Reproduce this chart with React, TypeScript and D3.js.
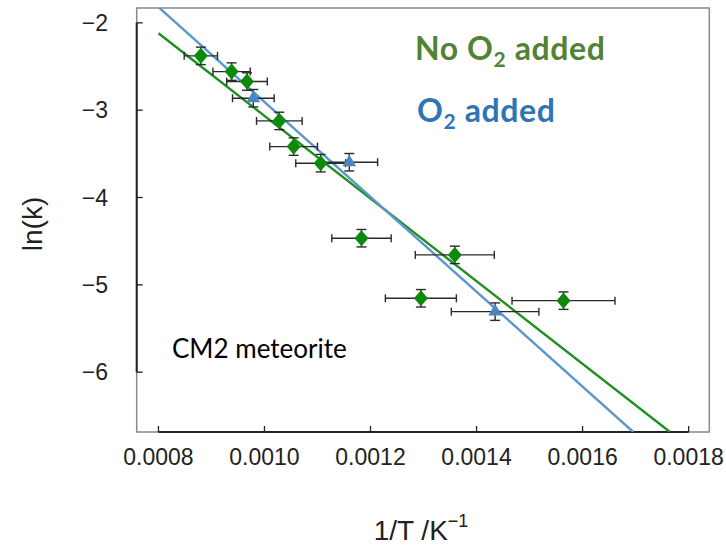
import React from "react";
import * as d3 from "d3";

// Arrhenius data: ln(k) vs 1/T for the CM2 meteorite runs
const noO2X = [0.00088, 0.000938, 0.000967, 0.001028, 0.001055, 0.001106, 0.001183, 0.001295, 0.001359, 0.001564];
const noO2Y = [-2.378, -2.558, -2.672, -3.123, -3.417, -3.607, -4.466, -5.154, -4.657, -5.181];
const noO2XErr = [0.0000314, 0.0000352, 0.0000383, 0.000043, 0.000045, 0.000047, 0.000056, 0.000067, 0.0000745, 0.0000971];
const noO2YErr = [0.1, 0.1, 0.1, 0.1, 0.1, 0.1, 0.1, 0.1, 0.1, 0.1];

const o2X = [0.000979, 0.00116, 0.001435];
const o2Y = [-2.863, -3.596, -5.307];
const o2XErr = [0.0000393, 0.0000534, 0.0000826];
const o2YErr = [0.1, 0.1, 0.1];

// Linear fits ln(k) = a + b * (1/T)
const fitNames = ["No O2 added", "O2 added"];
const fitIntercept = [1.668, 2.527];
const fitSlope = [-4733, -5433];
const fitStartX = 0.0008;

const xTicks = [0.0008, 0.001, 0.0012, 0.0014, 0.0016, 0.0018];
const yTicks = [-2, -3, -4, -5, -6];

const W = 726;
const H = 546;
const left = 136.7;
const right = 709.3;
const top = 8;
const bottom = 432;

const GREEN_LINE = "#1f8f1f";
const GREEN_MARK = "#0b8a0b";
const BLUE_LINE = "#5b97cc";
const BLUE_MARK = "#4a86bf";
const AXIS_FONT = "'Liberation Sans', Arial, sans-serif";
const NOTE_FONT = "Lato, 'Open Sans', sans-serif";

const diamond = {
  draw(ctx: any, size: number) {
    const w = Math.sqrt(size) / 2;
    const h = w * 1.15;
    ctx.moveTo(0, -h);
    ctx.lineTo(w, 0);
    ctx.lineTo(0, h);
    ctx.lineTo(-w, 0);
    ctx.closePath();
  },
};

export default function App() {
  const x = d3.scaleLinear().domain([0.000759, 0.001839]).range([left, right]);
  const y = d3.scaleLinear().domain([-6.685, -1.83]).range([bottom, top]);
  const fmtX = d3.format(".4f");
  const fmtY = d3.format("d");

  const diamondPath = d3.symbol(diamond as any, 196)()!;
  const trianglePath = d3.symbol(d3.symbolTriangle, 80)()!;

  const fitLines = fitNames.map((name, i) => {
    const yEnd = y.domain()[0];
    const xEnd = (yEnd - fitIntercept[i]) / fitSlope[i];
    const pts: [number, number][] = [
      [fitStartX, fitIntercept[i] + fitSlope[i] * fitStartX],
      [xEnd, yEnd],
    ];
    const line = d3
      .line<[number, number]>()
      .x((d) => x(d[0]))
      .y((d) => y(d[1]));
    return { name, d: line(pts)!, color: i === 0 ? GREEN_LINE : BLUE_LINE };
  });

  const errorBars = (xs: number[], ys: number[], xe: number[], ye: number[], key: string) =>
    xs.map((v, i) => {
      const cx = x(v);
      const cy = y(ys[i]);
      const x0 = x(v - xe[i]);
      const x1 = x(v + xe[i]);
      const y0 = y(ys[i] - ye[i]);
      const y1 = y(ys[i] + ye[i]);
      return (
        <g key={key + i} stroke="#2a2a2a" strokeWidth={1.4} fill="none">
          <line x1={x0} x2={x1} y1={cy} y2={cy} />
          <line x1={x0} x2={x0} y1={cy - 4} y2={cy + 4} />
          <line x1={x1} x2={x1} y1={cy - 4} y2={cy + 4} />
          <line x1={cx} x2={cx} y1={y0} y2={y1} />
          <line x1={cx - 5} x2={cx + 5} y1={y0} y2={y0} />
          <line x1={cx - 5} x2={cx + 5} y1={y1} y2={y1} />
        </g>
      );
    });

  return (
    <svg
      width={W}
      height={H}
      style={{ position: "absolute", left: 0, top: 0, background: "#fff" }}
    >
      <defs>
        <clipPath id="plotArea">
          <rect x={left} y={top} width={right - left} height={bottom - top} />
        </clipPath>
      </defs>

      {/* frame */}
      <rect x={left} y={top} width={right - left} height={bottom - top} fill="none" stroke="#8a8a8a" strokeWidth={1.5} />

      {/* range-frame axis spines */}
      <line x1={left} x2={left} y1={y(yTicks[0])} y2={y(yTicks[yTicks.length - 1])} stroke="#222" strokeWidth={2} />
      <line x1={x(xTicks[0])} x2={x(xTicks[xTicks.length - 1])} y1={bottom} y2={bottom} stroke="#222" strokeWidth={2} />

      {yTicks.map((t) => (
        <g key={"yt" + t}>
          <line x1={left} x2={left + 6} y1={y(t)} y2={y(t)} stroke="#222" strokeWidth={1.3} />
          <text
            x={108}
            y={y(t)}
            dy="0.36em"
            textAnchor="end"
            fontFamily={AXIS_FONT}
            fontSize={23}
            fill="#222"
          >
            {t < 0 ? "\u2212" + fmtY(-t) : fmtY(t)}
          </text>
        </g>
      ))}

      {xTicks.map((t) => (
        <g key={"xt" + t}>
          <line x1={x(t)} x2={x(t)} y1={bottom} y2={bottom - 6} stroke="#222" strokeWidth={1.3} />
          <text
            x={x(t)}
            y={465}
            textAnchor="middle"
            fontFamily={AXIS_FONT}
            fontSize={23}
            fill="#222"
          >
            {fmtX(t)}
          </text>
        </g>
      ))}

      {/* axis titles */}
      <text
        transform={`translate(42,${(top + bottom) / 2 + 4}) rotate(-90)`}
        textAnchor="middle"
        fontFamily={AXIS_FONT}
        fontSize={28}
        fill="#222"
      >
        ln(k)
      </text>
      <text x={421} y={540} textAnchor="middle" fontFamily={AXIS_FONT} fontSize={28} fill="#222">
        1/T /K
        <tspan fontSize={18} dy={-13}>
          {"\u22121"}
        </tspan>
      </text>

      <g clipPath="url(#plotArea)">
        {fitLines.map((f) => (
          <path key={f.name} d={f.d} stroke={f.color} strokeWidth={2.4} fill="none" />
        ))}
      </g>

      {errorBars(noO2X, noO2Y, noO2XErr, noO2YErr, "ge")}
      {errorBars(o2X, o2Y, o2XErr, o2YErr, "be")}

      {noO2X.map((v, i) => (
        <path key={"gd" + i} d={diamondPath} transform={`translate(${x(v)},${y(noO2Y[i])})`} fill={GREEN_MARK} />
      ))}
      {o2X.map((v, i) => (
        <path key={"bt" + i} d={trianglePath} transform={`translate(${x(v)},${y(o2Y[i])})`} fill={BLUE_MARK} />
      ))}

      {/* series labels */}
      <text x={415} y={60} fontFamily={NOTE_FONT} fontWeight="bold" fontSize={32} letterSpacing={0.6} fill="#548235">
        No O<tspan fontSize={21} dy={7}>2</tspan>
        <tspan dy={-7}> added</tspan>
      </text>
      <text x={417} y={122} fontFamily={NOTE_FONT} fontWeight="bold" fontSize={32} letterSpacing={0.6} fill="#2e75b6">
        O<tspan fontSize={21} dy={7}>2</tspan>
        <tspan dy={-7}> added</tspan>
      </text>
      <text x={172} y={358} fontFamily={NOTE_FONT} fontSize={26} fill="#000">
        CM2 meteorite
      </text>
    </svg>
  );
}
